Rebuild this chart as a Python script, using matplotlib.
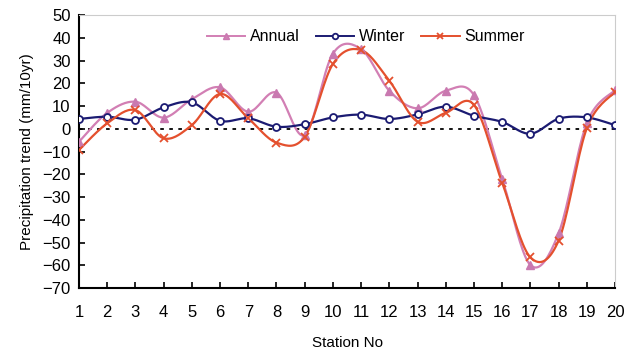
import numpy as np
import matplotlib
matplotlib.use('Agg')
import matplotlib.pyplot as plt

# Data
stations = list(range(1, 21))
annual = [-5.7, 7.0, 11.9, 4.9, 13.0, 18.2, 7.5, 15.9, -2.7, 33.0,
          35.0, 16.7, 9.0, 16.7, 14.8, -22.0, -59.9, -46.0, 2.5, 17.0]
winter = [4.3, 5.3, 4.0, 9.4, 11.6, 3.5, 4.6, 0.9, 2.0, 5.0,
          6.2, 4.3, 6.3, 9.7, 5.7, 3.0, -2.2, 4.4, 5.0, 1.6]
summer = [-9.3, 2.4, 8.2, -4.2, 1.6, 15.3, 4.6, -6.1, -3.5, 28.5,
          34.6, 21.1, 3.1, 7.0, 10.5, -23.7, -56.5, -49.2, 0.2, 16.3]


def smooth(x, y, n=20):
    # Catmull-Rom style curve, like Excel's "smoothed line"
    x = np.asarray(x, float)
    y = np.asarray(y, float)
    px = np.concatenate([[x[0]], x, [x[-1]]])
    py = np.concatenate([[y[0]], y, [y[-1]]])
    xs, ys = [], []
    t = np.linspace(0, 1, n)
    for i in range(1, len(px) - 2):
        p0 = np.array([px[i], py[i]])
        p3 = np.array([px[i + 1], py[i + 1]])
        p1 = p0 + (np.array([px[i + 1], py[i + 1]]) - np.array([px[i - 1], py[i - 1]])) / 6
        p2 = p3 - (np.array([px[i + 2], py[i + 2]]) - np.array([px[i], py[i]])) / 6
        b = ((1 - t) ** 3)[:, None] * p0 + (3 * (1 - t) ** 2 * t)[:, None] * p1 \
            + (3 * (1 - t) * t ** 2)[:, None] * p2 + (t ** 3)[:, None] * p3
        xs.extend(b[:, 0])
        ys.extend(b[:, 1])
    return xs, ys


plt.rcParams['font.family'] = ['Liberation Sans', 'DejaVu Sans']
fig = plt.figure(figsize=(6.25, 3.55), dpi=100)
ax = fig.add_axes([0.1264, 0.1887, 0.8576, 0.769])

ax.axhline(0, color='black', linestyle=(0, (2, 3)), linewidth=1.3, zorder=1)

series = [
    (annual, 'Annual', '#D27FB4', '#C979B0', '^', dict(markersize=6)),
    (winter, 'Winter', '#1B1B72', '#1B1B72', 'o', dict(markersize=5, markerfacecolor='white', markeredgewidth=1.3)),
    (summer, 'Summer', '#E4502E', '#E4502E', 'x', dict(markersize=6, markeredgewidth=1.3)),
]
for vals, name, lc, mc, mk, kw in series:
    sx, sy = smooth(stations, vals)
    ax.plot(sx, sy, color=lc, linewidth=1.6, zorder=2)
    ax.plot(stations, vals, linestyle='none', marker=mk, color=mc, zorder=3, **kw)
    ax.plot([], [], color=lc, linewidth=1.4, marker=mk, label=name,
            markeredgecolor=mc, **{k: v for k, v in kw.items() if k != 'markersize'}, markersize=4)

ax.set_xlim(1, 20)
ax.set_ylim(-70, 50)
ax.set_xticks(stations)
ax.set_yticks(range(-70, 51, 10))
ax.tick_params(direction='in', length=4, width=1.2, labelsize=12, pad=6)
ax.tick_params(axis='x', pad=12)
for s in ['left', 'bottom']:
    ax.spines[s].set_linewidth(1.5)
    ax.spines[s].set_color('black')
for s in ['top', 'right']:
    ax.spines[s].set_color('#cccccc')
    ax.spines[s].set_linewidth(0.8)

ax.set_xlabel('Station No', fontsize=11, labelpad=12)
ax.set_ylabel('Precipitation trend (mm/10yr)', fontsize=11, labelpad=6)

ax.legend(loc='upper center', bbox_to_anchor=(0.535, 1.0), ncol=3, frameon=False,
          fontsize=11.5, handlelength=2.4, columnspacing=1.0, handletextpad=0.3)

fig.savefig('out.png', dpi=100)
